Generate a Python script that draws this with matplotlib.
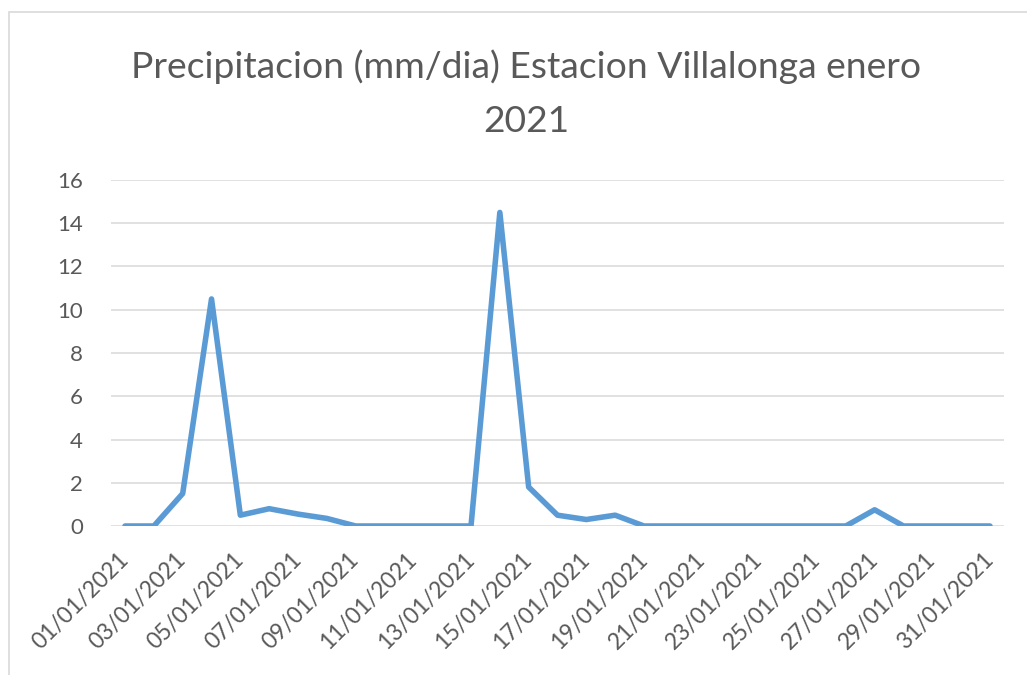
"""Precipitacion diaria, Estacion Villalonga, enero 2021."""

import matplotlib
matplotlib.use("Agg")
import matplotlib.pyplot as plt
import numpy as np
import pandas as pd
from matplotlib.patches import Rectangle

# data
fechas = pd.date_range("2021-01-01", "2021-01-31", freq="D").strftime("%d/%m/%Y").tolist()
precip_mm = [0, 0, 1.5, 10.5, 0.5, 0.8, 0.55, 0.35,
             0, 0, 0, 0, 0, 14.5,
             1.8, 0.5, 0.3, 0.5,
             0, 0, 0, 0, 0, 0, 0, 0,
             0.75, 0, 0, 0, 0]
y_ticks = [0, 2, 4, 6, 8, 10, 12, 14, 16]

TEXT = "#595959"
GRID = "#D9D9D9"
LINE = "#5B9BD5"

plt.rcParams["font.family"] = ["Lato", "DejaVu Sans"]

W, H = 1027, 675
fig = plt.figure(figsize=(W / 100, H / 100), dpi=100)

# outer chart frame (Excel style), runs off the right/bottom edges
fig.patches.append(Rectangle((9 / W, -0.05), 1.1, 1 - 12 / H + 0.05,
                             transform=fig.transFigure, fill=False,
                             edgecolor=GRID, linewidth=1.2))

ax = fig.add_axes([110.6 / W, 149 / H, (1004.4 - 110.6) / W, (526 - 180) / H])
x = np.arange(1, len(fechas) + 1)
ax.plot(x, precip_mm, color=LINE, linewidth=4,
        solid_joinstyle="round", solid_capstyle="round", zorder=3)

ax.set_xlim(0.5, len(fechas) + 0.5)
ax.set_ylim(0, 16)
ax.set_yticks(y_ticks)
ax.yaxis.grid(True, color=GRID, linewidth=1.1)
ax.set_axisbelow(True)
for s in ax.spines.values():
    s.set_visible(False)

ax.set_xticks(x[::2])
ax.set_xticklabels(fechas[::2], rotation=45, ha="right", va="center",
                   rotation_mode="anchor")
ax.tick_params(axis="x", length=0, pad=22, labelsize=16.5, labelcolor=TEXT)
ax.tick_params(axis="y", length=0, pad=20, labelsize=16, labelcolor=TEXT)

fig.text(526 / W, 1 - 78 / H, "Precipitacion (mm/dia) Estacion Villalonga enero",
         ha="center", va="baseline", fontsize=26.8, color=TEXT)
fig.text(526 / W, 1 - 132 / H, "2021",
         ha="center", va="baseline", fontsize=26.8, color=TEXT)

fig.savefig("out.png", dpi=100)
